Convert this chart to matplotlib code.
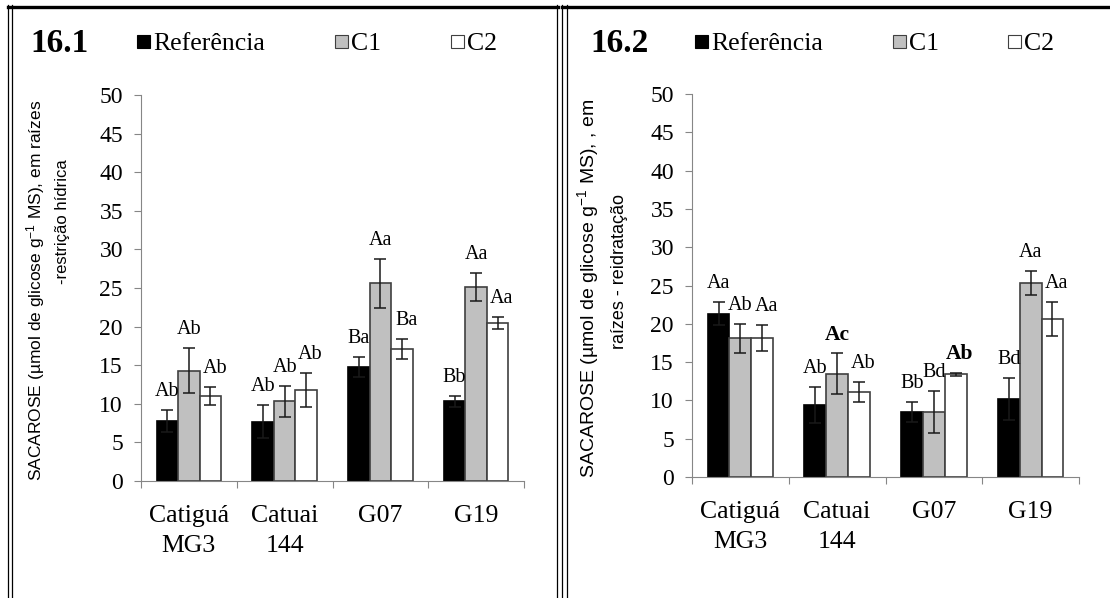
import matplotlib
matplotlib.use("Agg")
import numpy as np
import matplotlib.pyplot as plt
from matplotlib.lines import Line2D
from matplotlib.patches import Rectangle

plt.rcParams["font.family"] = ["Liberation Serif", "DejaVu Serif"]
plt.rcParams["mathtext.fontset"] = "custom"
plt.rcParams["mathtext.rm"] = "Liberation Sans"
plt.rcParams["mathtext.default"] = "rm"

categories = ["Catiguá\nMG3", "Catuai\n144", "G07", "G19"]
series = ["Referência", "C1", "C2"]

# 16.1 - restricao hidrica
ref_1 = [7.8, 7.7, 14.8, 10.3]
c1_1 = [14.3, 10.3, 25.6, 25.1]
c2_1 = [11.0, 11.8, 17.1, 20.5]
ref_1_err = [1.4, 2.1, 1.3, 0.7]
c1_1_err = [2.9, 2.0, 3.2, 1.8]
c2_1_err = [1.2, 2.2, 1.3, 0.8]
ref_1_let = ["Ab", "Ab", "Ba", "Bb"]
c1_1_let = ["Ab", "Ab", "Aa", "Aa"]
c2_1_let = ["Ab", "Ab", "Ba", "Aa"]

# 16.2 - reidratacao
ref_2 = [21.3, 9.4, 8.5, 10.2]
c1_2 = [18.1, 13.5, 8.5, 25.3]
c2_2 = [18.1, 11.1, 13.4, 20.6]
ref_2_err = [1.5, 2.3, 1.3, 2.7]
c1_2_err = [1.9, 2.7, 2.7, 1.6]
c2_2_err = [1.7, 1.3, 0.2, 2.2]
ref_2_let = ["Aa", "Ab", "Bb", "Bd"]
c1_2_let = ["Ab", "Ac", "Bd", "Aa"]
c2_2_let = ["Aa", "Ab", "Ab", "Aa"]

W, H = 1110, 598
fig = plt.figure(figsize=(W / 100, H / 100), dpi=100)


def fx(x):
    return x / W


def fy(y):
    return 1 - y / H


fills = ["black", "#c0c0c0", "white"]
edges = ["black", "#404040", "#404040"]
bw = 0.225
lab_shift = [0.0, 0.0, 0.045]  # small nudge so neighbouring letters don't collide


def panel(rect, vals, errs, lets, bold=()):
    ax = fig.add_axes(rect)
    x = np.arange(len(categories)) + 0.5
    for i in range(3):
        xi = x + (i - 1) * bw
        ax.bar(xi, vals[i], bw, color=fills[i], edgecolor=edges[i], lw=1.2, zorder=2)
        ax.errorbar(xi, vals[i], yerr=errs[i], fmt="none", ecolor="#1a1a1a",
                    elinewidth=1.1, capsize=4.3, capthick=1.1, zorder=3)
        for j in range(len(categories)):
            b = (j, i) in bold
            ax.text(xi[j] + lab_shift[i], vals[i][j] + errs[i][j] + 2.4, lets[i][j],
                    ha="center", va="center", fontsize=15.5 if b else 14.5,
                    fontweight="bold" if b else "normal")
    ax.set_xlim(0, 4)
    ax.set_ylim(0, 50)
    ax.set_yticks(range(0, 51, 5))
    ax.set_xticks(range(5))
    ax.set_xticklabels([])
    ax.set_xticks(x, categories, minor=True)
    ax.tick_params(axis="x", which="major", length=5, color="#868686", direction="out")
    ax.tick_params(axis="x", which="minor", length=0, pad=17, labelsize=18.5)
    ax.tick_params(axis="y", length=5, color="#868686", labelsize=17, pad=8)
    for lab in ax.get_xticklabels(minor=True):
        lab.set_linespacing(1.5)
    for s in ["top", "right"]:
        ax.spines[s].set_visible(False)
    for s in ["left", "bottom"]:
        ax.spines[s].set_color("#868686")
    return ax


panel([fx(141), 1 - 481 / H, fx(524) - fx(141), 386 / H],
      [ref_1, c1_1, c2_1], [ref_1_err, c1_1_err, c2_1_err],
      [ref_1_let, c1_1_let, c2_1_let])
panel([fx(692), 1 - 477 / H, fx(1079) - fx(692), 383 / H],
      [ref_2, c1_2, c2_2], [ref_2_err, c1_2_err, c2_2_err],
      [ref_2_let, c1_2_let, c2_2_let], bold=[(1, 1), (2, 2)])

# y labels
sans = ["Liberation Sans", "DejaVu Sans"]
fig.text(fx(36), fy(290), r"SACAROSE (µmol de glicose g$^{-1}$ MS), em raízes",
         rotation=90, ha="center", va="center", fontsize=12.5, family=sans)
fig.text(fx(62), fy(222), "-restrição hídrica", rotation=90, ha="center",
         va="center", fontsize=12, family=sans)
fig.text(fx(588), fy(288), r"SACAROSE (µmol de glicose g$^{-1}$ MS), , em",
         rotation=90, ha="center", va="center", fontsize=14, family=sans)
fig.text(fx(620), fy(272), "raízes - reidratação", rotation=90, ha="center",
         va="center", fontsize=13, family=sans)

# titles and legends
for title, tx, sq in [("16.1", 30, [137, 335, 451]), ("16.2", 590, [695, 893, 1008])]:
    fig.text(fx(tx), fy(52), title, fontsize=24, fontweight="bold", va="baseline")
    for k in range(3):
        fig.add_artist(Rectangle((fx(sq[k]), fy(48)), 13 / W, 13 / H,
                                 transform=fig.transFigure, facecolor=fills[k],
                                 edgecolor="black" if k == 0 else "#404040", lw=0.8))
        fig.text(fx(sq[k] + 16), fy(50), series[k], fontsize=18.5, va="baseline")

# panel frames
def vline(x, lw=1.0):
    fig.add_artist(Line2D([fx(x), fx(x)], [fy(5), 0], transform=fig.transFigure,
                          color="black", lw=lw))


def hline(x0, x1, y, lw):
    fig.add_artist(Line2D([fx(x0), fx(x1)], [fy(y), fy(y)], transform=fig.transFigure,
                          color="black", lw=lw))


for x in [8, 12, 557, 562, 567]:
    vline(x, 0.9)
hline(7.5, 557.5, 6.5, 2.4)
hline(561.5, 1110, 6.5, 2.4)

fig.savefig("out.png", dpi=100)
